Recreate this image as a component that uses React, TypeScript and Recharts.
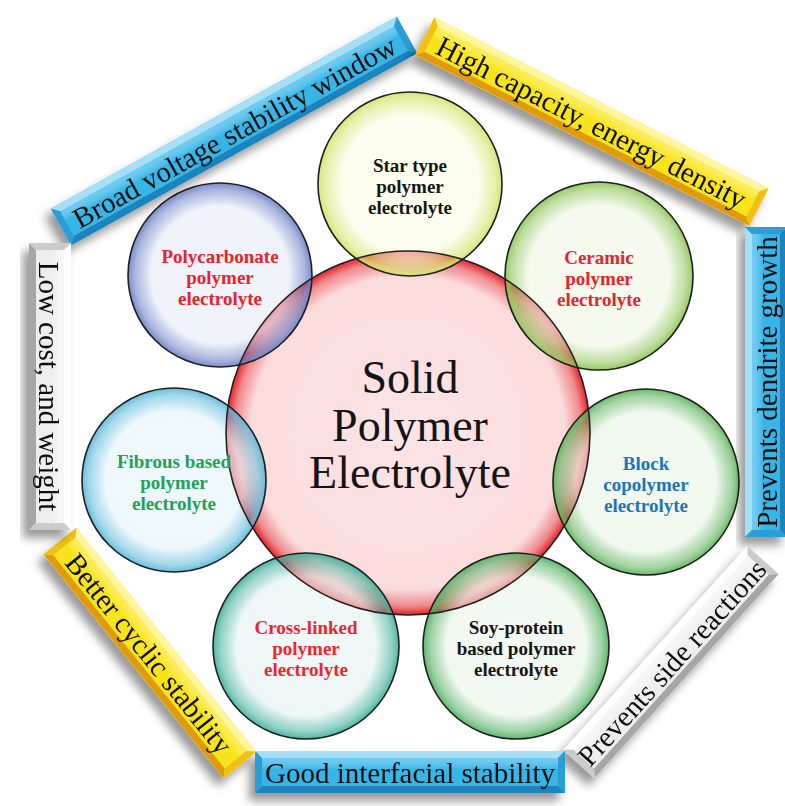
import { ScatterChart, Scatter, XAxis, YAxis, ReferenceLine } from 'recharts';

// hub of the diagram
const hubLines = ['Solid', 'Polymer', 'Electrolyte'];
const hubX = [408];
const hubY = [433];
const hubR = [182];

// the seven electrolyte types around the hub (x, y, in chart units)
const typeLines = [
    ['Star type', 'polymer', 'electrolyte'],
    ['Ceramic', 'polymer', 'electrolyte'],
    ['Block', 'copolymer', 'electrolyte'],
    ['Soy-protein', 'based polymer', 'electrolyte'],
    ['Cross-linked', 'polymer', 'electrolyte'],
    ['Fibrous based', 'polymer', 'electrolyte'],
    ['Polycarbonate', 'polymer', 'electrolyte'],
];
const typeX = [410, 599, 646, 516, 306, 174, 220];
const typeY = [184, 276, 482, 646, 646, 480, 275];
const typeR = [92, 94, 93, 93, 93, 92, 92];

// benefits on the heptagon frame, each a segment from start to end (reading direction)
const benefitText = [
    'Broad voltage stability window',
    'High capacity, energy density',
    'Prevents dendrite growth',
    'Prevents side reactions',
    'Good interfacial stability',
    'Better cyclic stability',
    'Low cost, and weight',
];
const benefitStartX = [61, 425, 766, 579, 255, 60, 50];
const benefitStartY = [227, 36, 537, 764, 772, 541, 243];
const benefitEndX = [407, 759, 766, 763, 565, 240, 50];
const benefitEndY = [35, 207, 227, 560, 772, 765, 530];
const benefitTone = ['blue', 'yellow', 'blue', 'gray', 'blue', 'yellow', 'gray'];

// colours
const typeInk = ['#161616', '#e8232b', '#1c74bd', '#161616', '#ee252d', '#20a253', '#e8232b'];
const typeTint = ['#fbfce4', '#eff6e4', '#e9f4e6', '#e9f4e8', '#e4f3f0', '#e4f3fa', '#e7ebf6'];
const typeRim = ['#d4e268', '#8cc456', '#5cb35a', '#4fae5e', '#3dae98', '#58b8d9', '#6a7ec4'];

const tones: Record<string, { face: string; hi: string; lo: string; side: string }> = {
    blue: { face: '#39b5e7', hi: '#a5e0f7', lo: '#1b83bd', side: '#2b9ed5' },
    yellow: { face: '#f8e41c', hi: '#fff59c', lo: '#e09a0c', side: '#f1bf13' },
    gray: { face: '#eeeeee', hi: '#ffffff', lo: '#a6a6a6', side: '#cbcbcb' },
};

const serif = '"Liberation Serif", "Times New Roman", serif';

const hubData = hubX.map((x, i) => ({ x, y: hubY[i], r: hubR[i] }));
const typeData = typeLines.map((lines, i) => ({ x: typeX[i], y: typeY[i], r: typeR[i], lines, i }));

const HubDisc = (p: any) => (
    <circle cx={p.cx} cy={p.cy} r={p.payload.r} fill="url(#hubFill)" />
);

const HubRim = (p: any) => (
    <g>
        <circle cx={p.cx} cy={p.cy} r={p.payload.r} fill="none" stroke="#222" strokeWidth={1.6} />
        <text textAnchor="middle" fontFamily={serif} fontSize={46} fill="#141414">
            {hubLines.map((l, k) => (
                <tspan key={l} x={p.cx + 2} y={p.cy - 40 + k * 47.5}>{l}</tspan>
            ))}
        </text>
    </g>
);

const TypeDisc = (p: any) => (
    <circle cx={p.cx} cy={p.cy} r={p.payload.r} fill={`url(#type${p.payload.i})`} />
);

const TypeRim = (p: any) => {
    const { cx, cy, payload } = p;
    return (
        <g>
            <circle cx={cx} cy={cy} r={payload.r} fill="none" stroke="#1e1e1e" strokeWidth={1.6} />
            <text
                textAnchor="middle"
                dominantBaseline="central"
                fontFamily={serif}
                fontWeight="bold"
                fontSize={19}
                fill={typeInk[payload.i]}
            >
                {payload.lines.map((l: string, k: number) => (
                    <tspan key={k} x={cx} y={cy + 2 + (k - 1) * 21}>{l}</tspan>
                ))}
            </text>
        </g>
    );
};

const bannerShape = (text: string, tone: string) => (p: any) => {
    const { x1, y1, x2, y2 } = p;
    const len = Math.hypot(x2 - x1, y2 - y1);
    const ang = (Math.atan2(y2 - y1, x2 - x1) * 180) / Math.PI;
    const mx = (x1 + x2) / 2;
    const my = (y1 + y2) / 2;
    const t = tones[tone];
    const hl = len / 2;
    const hh = 21;
    const b = 7;
    return (
        <g filter="url(#drop)">
            <g transform={`translate(${mx},${my}) rotate(${ang})`}>
                <rect x={-hl} y={-hh} width={len} height={hh * 2} fill={t.face} />
                <polygon points={`${-hl},${-hh} ${hl},${-hh} ${hl - b},${-hh + b} ${-hl + b},${-hh + b}`} fill={t.hi} />
                <polygon points={`${-hl},${hh} ${hl},${hh} ${hl - b},${hh - b} ${-hl + b},${hh - b}`} fill={t.lo} />
                <polygon points={`${-hl},${-hh} ${-hl + b},${-hh + b} ${-hl + b},${hh - b} ${-hl},${hh}`} fill={t.side} />
                <polygon points={`${hl},${-hh} ${hl - b},${-hh + b} ${hl - b},${hh - b} ${hl},${hh}`} fill={t.side} />
                <rect x={-hl + b} y={-hh + b} width={len - 2 * b} height={hh * 2 - 2 * b} fill={`url(#face-${tone})`} />
                <text
                    x={0}
                    y={1}
                    textAnchor="middle"
                    dominantBaseline="central"
                    fontFamily={serif}
                    fontSize={29}
                    fill="#111"
                >
                    {text}
                </text>
            </g>
        </g>
    );
};

export default function App() {
    return (
        <div style={{ position: 'absolute', left: 0, top: 0, background: '#fff' }}>
            <ScatterChart width={785} height={806} margin={{ top: 0, right: 0, bottom: 0, left: 0 }}>
                <defs>
                    <filter id="drop" x="-20%" y="-30%" width="140%" height="160%">
                        <feDropShadow dx={-6} dy={8} stdDeviation={5} floodColor="#000" floodOpacity={0.4} />
                    </filter>
                    <radialGradient id="hubFill">
                        <stop offset="0%" stopColor="#fde4e5" />
                        <stop offset="86%" stopColor="#fbdcdd" />
                        <stop offset="95%" stopColor="#f08a8d" />
                        <stop offset="100%" stopColor="#e2242b" />
                    </radialGradient>
                    {typeTint.map((c, i) => (
                        <radialGradient id={`type${i}`} key={i}>
                            <stop offset="0%" stopColor={c} stopOpacity={0.6} />
                            <stop offset="75%" stopColor={c} stopOpacity={0.62} />
                            <stop offset="92%" stopColor={typeRim[i]} stopOpacity={0.55} />
                            <stop offset="100%" stopColor={typeRim[i]} stopOpacity={0.9} />
                        </radialGradient>
                    ))}
                    {Object.keys(tones).map((k) => (
                        <linearGradient id={`face-${k}`} key={k} x1="0" y1="0" x2="0" y2="1">
                            <stop offset="0%" stopColor={tones[k].hi} stopOpacity={0.5} />
                            <stop offset="40%" stopColor={tones[k].face} />
                            <stop offset="100%" stopColor={tones[k].face} />
                        </linearGradient>
                    ))}
                </defs>
                <XAxis type="number" dataKey="x" domain={[0, 785]} hide />
                <YAxis type="number" dataKey="y" domain={[0, 806]} reversed hide />
                {benefitText.map((text, i) => (
                    <ReferenceLine
                        key={text}
                        ifOverflow="visible"
                        segment={[
                            { x: benefitStartX[i], y: benefitStartY[i] },
                            { x: benefitEndX[i], y: benefitEndY[i] },
                        ]}
                        shape={bannerShape(text, benefitTone[i])}
                    />
                ))}
                <Scatter data={hubData} shape={HubDisc} isAnimationActive={false} />
                <Scatter data={typeData} shape={TypeDisc} isAnimationActive={false} />
                <Scatter data={hubData} shape={HubRim} isAnimationActive={false} />
                <Scatter data={typeData} shape={TypeRim} isAnimationActive={false} />
            </ScatterChart>
        </div>
    );
}
